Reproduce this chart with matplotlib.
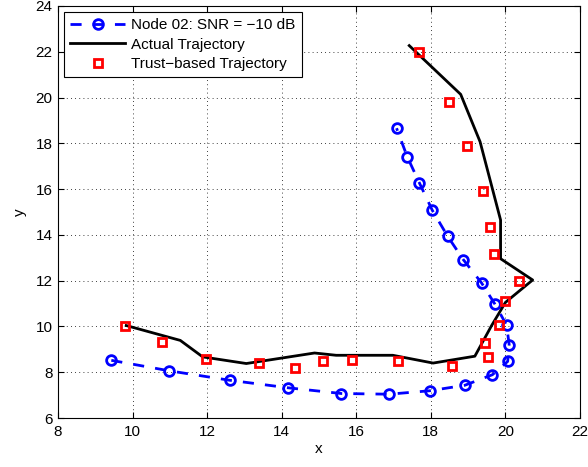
import numpy as np
import matplotlib.pyplot as plt

plt.rcParams['font.family'] = ['Liberation Sans', 'DejaVu Sans']
plt.rcParams['font.size'] = 11

# Node 02 estimate (blue dashed circles)
node_x = [9.43, 10.99, 12.60, 14.17, 15.60, 16.88, 17.97, 18.91, 19.65, 20.06,
          20.10, 20.03, 19.72, 19.36, 18.87, 18.45, 18.04, 17.69, 17.37, 17.08]
node_y = [8.52, 8.06, 7.65, 7.32, 7.07, 7.04, 7.19, 7.43, 7.89, 8.47,
          9.21, 10.06, 10.97, 11.90, 12.92, 13.94, 15.07, 16.28, 17.40, 18.66]

# actual trajectory
act_x = [9.83, 11.28, 11.88, 13.05, 14.88, 15.46, 16.98, 18.06, 19.18, 19.63,
         20.00, 20.73, 19.87, 19.87, 19.32, 18.80, 17.42]
act_y = [10.04, 9.39, 8.67, 8.38, 8.84, 8.74, 8.74, 8.40, 8.70, 10.04,
         11.05, 12.03, 12.96, 14.65, 18.07, 20.14, 22.27]

# trust-based trajectory
trust_x = [9.81, 10.80, 11.98, 13.38, 14.35, 15.11, 15.89, 17.12, 18.58, 19.52,
           19.46, 19.83, 20.00, 20.37, 19.69, 19.59, 19.41, 18.98, 18.48, 17.68]
trust_y = [10.01, 9.30, 8.57, 8.41, 8.17, 8.48, 8.54, 8.51, 8.25, 8.65,
           9.27, 10.07, 11.13, 11.97, 13.18, 14.36, 15.92, 17.88, 19.79, 21.98]

fig = plt.figure(figsize=(5.88, 4.67), dpi=100)
ax = fig.add_axes([58 / 588, 1 - 418 / 467, 522 / 588, 412 / 467])

ax.plot(node_x, node_y, '--o', color='blue', lw=2, mfc='none', mec='blue',
        mew=2, ms=7, dashes=(4, 4), label='Node 02: SNR = \u221210 dB')
ax.plot(act_x, act_y, '-', color='black', lw=2, label='Actual Trajectory')
ax.plot(trust_x, trust_y, 's', color='red', mfc='none', mec='red', mew=2,
        ms=6, ls='none', label='Trust\u2212based Trajectory')

ax.set_xlim(8, 22)
ax.set_ylim(6, 24)
ax.set_xticks(np.arange(8, 23, 2))
ax.set_yticks(np.arange(6, 25, 2))
ax.grid(True, color='black', linestyle=(0, (1, 4)), lw=0.6)
ax.tick_params(direction='in', length=4, width=0.8, top=True, right=True)
ax.tick_params(axis='x', pad=5)
ax.tick_params(axis='y', pad=4)
for s in ax.spines.values():
    s.set_linewidth(0.8)
ax.set_xlabel('x', labelpad=2)
ax.set_ylabel('y', labelpad=6)

leg = ax.legend(loc='upper left', fancybox=False, edgecolor='black',
                framealpha=1, borderaxespad=0.4, handlelength=3.6,
                handletextpad=0.4, borderpad=0.4, labelspacing=0.35)
leg.get_frame().set_linewidth(0.8)

plt.savefig('out.png', dpi=100)
plt.close()
